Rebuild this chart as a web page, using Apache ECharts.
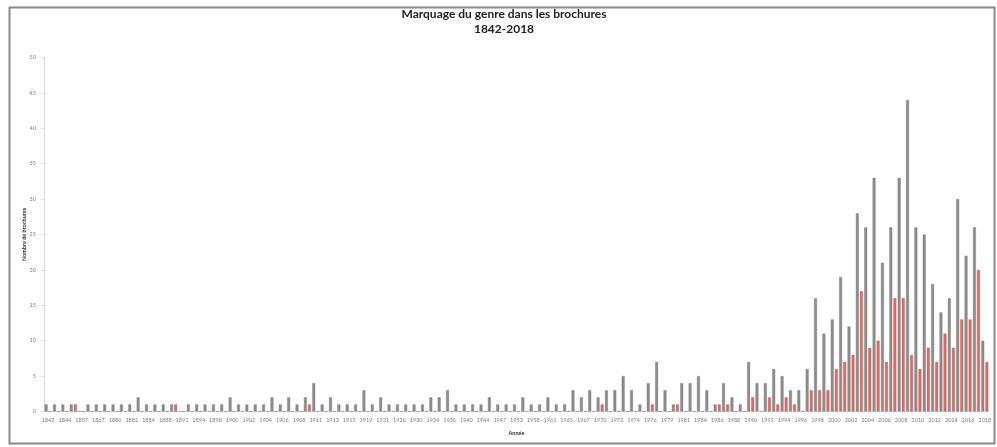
<!DOCTYPE html>
<html>
<head>
<meta charset="utf-8">
<script src="https://cdn.jsdelivr.net/npm/echarts@6/dist/echarts.min.js"></script>
<style>
html,body{margin:0;padding:0;background:#fff;}
#c{width:997px;height:447px;}
</style>
</head>
<body>
<div id="c"></div>
<script>
const years = [
  '1842','1843','1844','1850','1857','1862','1867','1875','1880','1881','1882','1883','1884','1886','1888','1890',
  '1891','1893','1894','1896','1898','1899','1900','1901','1902','1903','1904','1905','1906','1907','1908','1910',
  '1911','1912','1913','1914','1915','1917','1919','1920','1921','1924','1926','1928','1930','1932','1934','1935',
  '1936','1938','1940','1942','1944','1946','1947','1950','1953','1955','1958','1960','1961','1963','1965','1966',
  '1967','1969','1970','1971','1972','1973','1974','1975','1976','1978','1979','1980','1981','1983','1984','1985',
  '1986','1987','1988','1989','1990','1991','1992','1993','1994','1995','1996','1997','1998','1999','2000','2001',
  '2002','2003','2004','2005','2006','2007','2008','2009','2010','2011','2012','2013','2014','2015','2016','2017','2018'
];
const totalBrochures = [
  1,1,1,1,0,1,1,1,1,1,1,2,1,1,1,1,
  0,1,1,1,1,1,2,1,1,1,1,2,1,2,1,2,
  4,1,2,1,1,1,3,1,2,1,1,1,1,1,2,2,
  3,1,1,1,1,2,1,1,1,2,1,1,2,1,1,3,
  2,3,2,3,3,5,3,1,4,7,3,1,4,4,5,3,
  1,4,2,1,7,4,4,6,5,3,3,6,16,11,13,19,
  12,28,26,33,21,26,33,44,26,25,18,14,16,30,22,26,10
];
const genreMarked = [
  0,0,0,1,0,0,0,0,0,0,0,0,0,0,0,1,
  0,0,0,0,0,0,0,0,0,0,0,0,0,0,0,1,
  0,0,0,0,0,0,0,0,0,0,0,0,0,0,0,0,
  0,0,0,0,0,0,0,0,0,0,0,0,0,0,0,0,
  0,0,1,0,0,0,0,0,1,0,0,1,0,0,0,0,
  1,1,0,0,2,0,2,1,2,1,0,3,3,3,6,7,
  8,17,9,10,7,16,16,8,6,9,7,11,9,13,13,20,7
];
const yTicks = {min: 0, max: 50, interval: 5};

const chart = echarts.init(document.getElementById('c'), null, {renderer: 'canvas'});
const font = 'Lato, "Open Sans", sans-serif';
chart.setOption({
  animation: false,
  backgroundColor: '#ffffff',
  graphic: [{
    type: 'rect', left: 7, top: 5,
    shape: {width: 985, height: 436},
    style: {fill: 'none', stroke: '#8a8a8a', lineWidth: 2},
    silent: true
  }],
  title: {
    text: 'Marquage du genre dans les brochures\n1842-2018',
    left: 499, top: 2,
    textAlign: 'center',
    textStyle: {fontFamily: font, fontSize: 12, fontWeight: 'bold', color: '#222', lineHeight: 15}
  },
  grid: {left: 44, right: 8, top: 57.5, bottom: 35.5, containLabel: false},
  xAxis: {
    type: 'category',
    data: years,
    name: 'Année',
    nameLocation: 'middle',
    nameGap: 19,
    nameMoveOverlap: false,
    nameTextStyle: {fontFamily: font, fontSize: 5.5, fontWeight: 'bold', color: '#333'},
    axisLine: {lineStyle: {color: '#d9d9d9', width: 1}},
    axisTick: {show: false},
    axisLabel: {interval: 1, fontFamily: font, fontSize: 5.5, color: '#7f7f7f', margin: 6}
  },
  yAxis: {
    type: 'value',
    min: yTicks.min, max: yTicks.max, interval: yTicks.interval,
    name: 'Nombre de brochures',
    nameLocation: 'middle',
    nameGap: 17,
    nameMoveOverlap: false,
    nameRotate: 90,
    nameTextStyle: {fontFamily: font, fontSize: 5.5, fontWeight: 'bold', color: '#333'},
    axisLine: {show: true, lineStyle: {color: '#d9d9d9', width: 1}},
    axisTick: {show: true, length: 3, lineStyle: {color: '#d9d9d9'}},
    splitLine: {show: false},
    axisLabel: {fontFamily: font, fontSize: 5.5, color: '#7f7f7f', margin: 8}
  },
  series: [
    {
      name: 'Brochures', type: 'bar', data: totalBrochures,
      barWidth: 2.9, barGap: '40%',
      itemStyle: {color: '#8c8c8c', borderColor: '#7b7b7b', borderWidth: 0.4}
    },
    {
      name: 'Marquage du genre', type: 'bar', data: genreMarked,
      barWidth: 2.9,
      itemStyle: {color: '#de6a62', borderColor: '#c85a54', borderWidth: 0.4}
    }
  ]
});
</script>
</body>
</html>
